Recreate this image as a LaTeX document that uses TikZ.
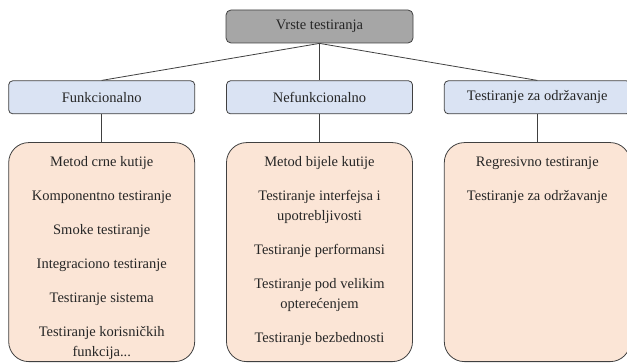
\documentclass[tikz,border=0pt]{standalone}
\usepackage{fontspec}
\setmainfont{Liberation Serif}
\definecolor{colroot}{RGB}{166,166,166}
\definecolor{colgroup}{RGB}{218,227,243}
\definecolor{collist}{RGB}{251,229,214}
\definecolor{colline}{RGB}{64,64,64}
\usetikzlibrary{
	positioning
}
\tikzset{
	treeedge/.style={draw=colline, line width=0.8pt},
	rootnode/.style={draw=colline, fill=colroot, rounded corners=5pt, line width=0.8pt, minimum width=187pt, minimum height=33pt},
	groupnode/.style={draw=colline, fill=colgroup, rounded corners=4pt, line width=0.8pt, minimum width=186pt, minimum height=33pt},
	listnode/.style={draw=colline, fill=collist, rounded corners=20pt, line width=0.8pt, minimum width=186pt, minimum height=219pt},
	listtext/.style={align=center, inner sep=0pt, anchor=north, yshift=-14pt}
}

\begin{document}
\begin{tikzpicture}[font=\fontsize{14.5pt}{20pt}\selectfont, text=black!85]
	\useasboundingbox (0,0) rectangle (627pt,362pt);

	\node[rootnode] (vrste) at (319.5pt,335.5pt) {Vrste testiranja};
	\node[groupnode] (nefun) [below=37pt of vrste] {Nefunkcionalno};
	\node[groupnode] (fun) [left=31pt of nefun] {Funkcionalno};
	\node[groupnode] (odr) [right=31pt of nefun] {Testiranje za održavanje};

	\node[listnode] (funbox) [below=28pt of fun] {};
	\node[listnode] (nefunbox) [below=28pt of nefun] {};
	\node[listnode] (odrbox) [below=28pt of odr] {};

	\node[listtext] (funlist) at (funbox.north) {Metod crne kutije\\[14pt]
		Komponentno testiranje\\[14pt]
		Smoke testiranje\\[14pt]
		Integraciono testiranje\\[14pt]
		Testiranje sistema\\[14pt]
		Testiranje korisničkih\\
		funkcija...};
	\node[listtext] (nefunlist) at (nefunbox.north) {Metod bijele kutije\\[14pt]
		Testiranje interfejsa i\\
		upotrebljivosti\\[14pt]
		Testiranje performansi\\[14pt]
		Testiranje pod velikim\\
		opterećenjem\\[14pt]
		Testiranje bezbednosti};
	\node[listtext] (odrlist) at (odrbox.north) {Regresivno testiranje\\[14pt]
		Testiranje za održavanje};

	\path[treeedge]
		(vrste.south) edge (fun.north)
			edge (nefun.north)
			edge (odr.north)
		(fun) edge (funbox)
		(nefun) edge (nefunbox)
		(odr) edge (odrbox)
	;
\end{tikzpicture}
\end{document}
